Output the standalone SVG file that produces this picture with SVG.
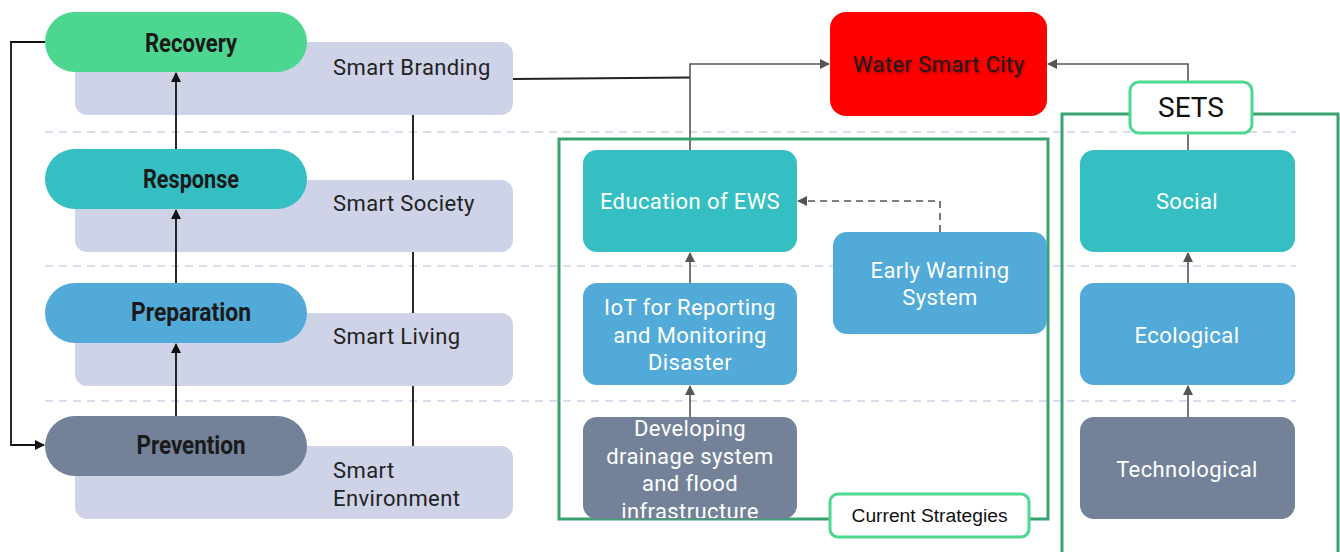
<svg xmlns="http://www.w3.org/2000/svg" width="1340" height="552" viewBox="0 0 1340 552">
<style>
.pill-t{font-family:Roboto,"Liberation Sans",sans-serif;font-weight:bold;font-size:25px;fill:#1a1a1a;text-anchor:middle}
.lav{fill:#CED3E8}
.lav-t{font-family:Roboto,"Liberation Sans",sans-serif;font-size:22px;letter-spacing:0.4px;fill:#222}
.box-t{font-family:Roboto,"Liberation Sans",sans-serif;font-size:22px;letter-spacing:0.4px;fill:#fff;text-anchor:middle}
.dash{stroke:#CED3E8;stroke-width:1.5;stroke-dasharray:8 6;fill:none}
.blk{stroke:#111;stroke-width:1.8;fill:none}
.gry{stroke:#555;stroke-width:1.6;fill:none}
.grp{fill:none;stroke:#3AA26F;stroke-width:3}
.lbl{fill:#fff;stroke:#4DD88F;stroke-width:3}
</style>
<defs>
<marker id="ab" markerWidth="10" markerHeight="10" refX="9" refY="5" orient="auto" markerUnits="userSpaceOnUse"><path d="M0,0 L10,5 L0,10 Z" fill="#111"/></marker>
<marker id="ag" markerWidth="10" markerHeight="10" refX="9" refY="5" orient="auto" markerUnits="userSpaceOnUse"><path d="M0,0 L10,5 L0,10 Z" fill="#555"/></marker>
<clipPath id="cdev"><rect x="583" y="417" width="214" height="101" rx="14"/></clipPath>
<filter id="shd" x="-10%" y="-30%" width="120%" height="160%"><feDropShadow dx="1" dy="1.5" stdDeviation="1" flood-color="#000" flood-opacity="0.45"/></filter>
</defs>
<rect width="1340" height="552" fill="#fff"/>
<g id="guides">
<line class="dash" x1="45" y1="132" x2="1296" y2="132"/>
<line class="dash" x1="45" y1="266" x2="1296" y2="266"/>
<line class="dash" x1="45" y1="401" x2="1296" y2="401"/>
</g>
<g id="lavender">
<g id="smart-branding"><rect class="lav" x="75" y="42" width="438" height="73" rx="12"/><text class="lav-t" x="333" y="75">Smart Branding</text></g>
<g id="smart-society"><rect class="lav" x="75" y="180" width="438" height="72" rx="12"/><text class="lav-t" x="333" y="211">Smart Society</text></g>
<g id="smart-living"><rect class="lav" x="75" y="313" width="438" height="73" rx="12"/><text class="lav-t" x="333" y="344">Smart Living</text></g>
<g id="smart-environment"><rect class="lav" x="75" y="446" width="438" height="73" rx="12"/><text class="lav-t" x="333" y="478">Smart</text><text class="lav-t" x="333" y="506">Environment</text></g>
</g>
<g id="connectors">
<line class="blk" x1="413" y1="115" x2="413" y2="180"/>
<line class="blk" x1="413" y1="252" x2="413" y2="313"/>
<line class="blk" x1="413" y1="386" x2="413" y2="446"/>
<polyline class="blk" points="45,42 11,42 11,445 44,445" marker-end="url(#ab)"/>
<line class="blk" x1="176" y1="149" x2="176" y2="73" marker-end="url(#ab)"/>
<line class="blk" x1="176" y1="283" x2="176" y2="210" marker-end="url(#ab)"/>
<line class="blk" x1="176" y1="416" x2="176" y2="344" marker-end="url(#ab)"/>
<line class="blk" x1="513" y1="79" x2="690" y2="77.5" style="stroke:#222"/>
<polyline class="gry" points="690,150 690,64 829,64" marker-end="url(#ag)"/>
<polyline class="gry" points="1188,82 1188,64 1048,64" marker-end="url(#ag)"/>
<line class="gry" x1="1188" y1="133" x2="1188" y2="150"/>
<polyline class="gry" points="940,232 940,201 798,201" style="stroke-dasharray:7 5" marker-end="url(#ag)"/>
<line class="gry" x1="690" y1="283" x2="690" y2="253" marker-end="url(#ag)"/>
<line class="gry" x1="690" y1="417" x2="690" y2="386" marker-end="url(#ag)"/>
<line class="gry" x1="1188" y1="283" x2="1188" y2="253" marker-end="url(#ag)"/>
<line class="gry" x1="1188" y1="417" x2="1188" y2="386" marker-end="url(#ag)"/>
</g>
<g id="recovery"><rect x="45" y="12" width="262" height="60" rx="30" fill="#4CD690"/><text class="pill-t" x="191" y="52" textLength="92" lengthAdjust="spacingAndGlyphs">Recovery</text></g>
<g id="response"><rect x="45" y="149" width="262" height="60" rx="30" fill="#36BFC2"/><text class="pill-t" x="191" y="188" textLength="96" lengthAdjust="spacingAndGlyphs">Response</text></g>
<g id="preparation"><rect x="45" y="283" width="262" height="60" rx="30" fill="#52AAD8"/><text class="pill-t" x="191" y="321" textLength="120" lengthAdjust="spacingAndGlyphs">Preparation</text></g>
<g id="prevention"><rect x="45" y="416" width="262" height="60" rx="30" fill="#738299"/><text class="pill-t" x="191" y="454" textLength="109" lengthAdjust="spacingAndGlyphs">Prevention</text></g>
<g id="water-smart-city"><rect x="830" y="12" width="217" height="104" rx="16" fill="#FF0000"/><text x="939" y="72" text-anchor="middle" filter="url(#shd)" style="font-family:Roboto,'Liberation Sans',sans-serif;font-size:22px;letter-spacing:0.4px;fill:#1a1a1a">Water Smart City</text></g>
<g id="current-strategies-group"><rect class="grp" x="559" y="139" width="489" height="380"/></g>
<g id="education-ews"><rect x="583" y="150" width="214" height="102" rx="14" fill="#36BFC2"/><text class="box-t" x="690" y="209">Education of EWS</text></g>
<g id="early-warning"><rect x="833" y="232" width="214" height="102" rx="14" fill="#52AAD8"/><text class="box-t" x="940" y="278">Early Warning</text><text class="box-t" x="940" y="305">System</text></g>
<g id="iot"><rect x="583" y="283" width="214" height="102" rx="14" fill="#52AAD8"/><text class="box-t" x="690" y="315">IoT for Reporting</text><text class="box-t" x="690" y="343">and Monitoring</text><text class="box-t" x="690" y="370">Disaster</text></g>
<g id="developing"><rect x="583" y="417" width="214" height="102" rx="14" fill="#738299"/><g clip-path="url(#cdev)"><text class="box-t" x="690" y="436">Developing</text><text class="box-t" x="690" y="464">drainage system</text><text class="box-t" x="690" y="491">and flood</text><text class="box-t" x="690" y="519">infrastructure</text></g></g>
<g id="current-strategies-label"><rect class="lbl" x="830" y="494" width="199" height="43" rx="8"/><text x="929.5" y="522" text-anchor="middle" textLength="156" lengthAdjust="spacingAndGlyphs" style="font-family:'Liberation Sans',sans-serif;font-size:18px;fill:#111">Current Strategies</text></g>
<g id="sets-group"><rect class="grp" x="1062" y="114" width="276" height="450"/></g>
<g id="sets-label"><rect class="lbl" x="1130" y="82" width="122" height="51" rx="9"/><text x="1191" y="117" text-anchor="middle" style="font-family:Roboto,'Liberation Sans',sans-serif;font-size:28px;fill:#111">SETS</text></g>
<g id="social"><rect x="1080" y="150" width="215" height="102" rx="14" fill="#36BFC2"/><text class="box-t" x="1187" y="209">Social</text></g>
<g id="ecological"><rect x="1080" y="283" width="215" height="102" rx="14" fill="#52AAD8"/><text class="box-t" x="1187" y="343">Ecological</text></g>
<g id="technological"><rect x="1080" y="417" width="215" height="102" rx="14" fill="#738299"/><text class="box-t" x="1187" y="477">Technological</text></g>
</svg>
